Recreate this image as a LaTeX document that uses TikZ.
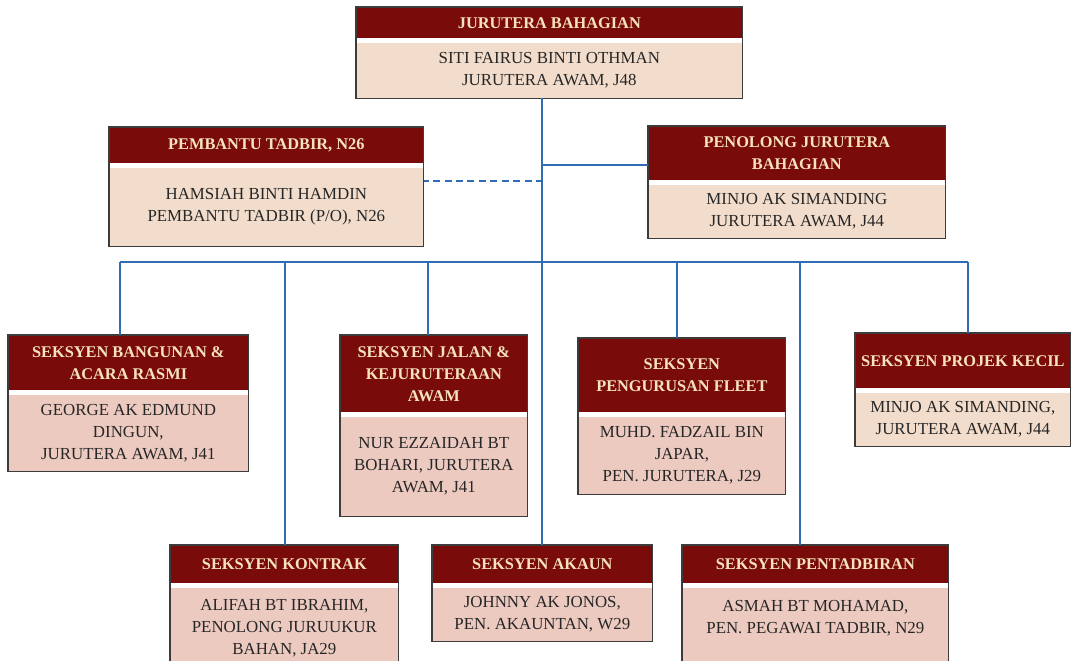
\documentclass[tikz,border=0pt]{standalone}
\usepackage{fontspec}
\setmainfont{Liberation Serif}
\usetikzlibrary{calc}
\definecolor{merahtua}{HTML}{7A0B0B}
\definecolor{krim}{HTML}{F6E3BC}
\definecolor{kuning}{HTML}{F2DDCC}
\definecolor{jambu}{HTML}{ECCAC0}
\definecolor{biru}{HTML}{2F6CB3}
\definecolor{kelabu}{HTML}{3C3C3C}
\tikzset{
    kepala/.style={fill=merahtua, text=krim, font=\fontsize{9.3}{12.5}\selectfont\bfseries, align=center, inner sep=1pt},
    isi/.style={text=black!85, font=\fontsize{9.6}{12.5}\selectfont, align=center, inner sep=1pt},
    bingkai/.style={draw=kelabu, line width=0.8pt},
    garis/.style={draw=biru, line width=1pt},
    putus/.style={dash pattern=on 4pt off 2.5pt}
}
% name, x, y, width, header height, body height, body colour, header, body
\newcommand{\Kotak}[9]{
    \node[kepala, minimum width={#4*0.02cm}, minimum height={#5*0.02cm}, anchor=north west] (#1-t) at (#2,#3) {#8};
    \node[isi, fill=#7, minimum width={#4*0.02cm}, minimum height={#6*0.02cm}, anchor=north] (#1) at ([yshift=-0.08cm]#1-t.south) {#9};
    \draw[bingkai] (#1-t.north west) rectangle (#1.south east);
}

\begin{document}
\begin{tikzpicture}[x=0.02cm, y=-0.02cm]
    \useasboundingbox (0,0) rectangle (1074,661);

    \Kotak{jurutera}{356}{7}{386}{31}{55}{kuning}{JURUTERA BAHAGIAN}{SITI FAIRUS BINTI OTHMAN\\JURUTERA AWAM, J48}
    \Kotak{pembantu}{109}{127}{314}{36}{78}{kuning}{PEMBANTU TADBIR, N26}{HAMSIAH BINTI HAMDIN\\PEMBANTU TADBIR (P/O), N26}
    \Kotak{penolong}{648}{126}{297}{54}{53}{kuning}{PENOLONG JURUTERA\\BAHAGIAN}{MINJO AK SIMANDING\\JURUTERA AWAM, J44}

    \Kotak{bangunan}{8}{335}{240}{55}{76}{jambu}{SEKSYEN BANGUNAN \&\\ACARA RASMI}{GEORGE AK EDMUND\\DINGUN,\\JURUTERA AWAM, J41}
    \Kotak{jalan}{340}{335}{187}{77}{99}{jambu}{SEKSYEN JALAN \&\\KEJURUTERAAN\\AWAM}{NUR EZZAIDAH BT\\BOHARI, JURUTERA\\AWAM, J41}
    \Kotak{fleet}{578}{338}{207}{74}{77}{jambu}{SEKSYEN\\PENGURUSAN FLEET}{MUHD. FADZAIL BIN\\JAPAR,\\PEN. JURUTERA, J29}
    \Kotak{projek}{855}{333}{215}{55}{53}{kuning}{SEKSYEN PROJEK KECIL}{MINJO AK SIMANDING,\\JURUTERA AWAM, J44}

    \Kotak{kontrak}{170}{545}{228}{38}{80}{jambu}{SEKSYEN KONTRAK}{ALIFAH BT IBRAHIM,\\PENOLONG JURUUKUR\\BAHAN, JA29}
    \Kotak{akaun}{432}{545}{220}{38}{53}{jambu}{SEKSYEN AKAUN}{JOHNNY AK JONOS,\\PEN. AKAUNTAN, W29}
    \Kotak{pentadbiran}{682}{545}{266}{38}{80}{jambu}{SEKSYEN PENTADBIRAN}{ASMAH BT MOHAMAD,\\PEN. PEGAWAI TADBIR, N29\\[0.02cm]}

    % lines
    \coordinate (cabang1) at (543,181);
    \coordinate (cabang2) at (543,165);
    \coordinate (bas) at (543,262);
    \foreach \k/\dx in {bangunan/-8, kontrak/1, jalan/-6, fleet/-5, pentadbiran/-15, projek/5}
        \coordinate (\k-x) at ([xshift=\dx*0.02cm]\k-t.north);
    \draw[garis] (jurutera.south -| akaun-t.north) -- (akaun-t.north);
    \draw[garis, putus] (cabang1) -- (cabang1 -| pembantu.east);
    \draw[garis] (cabang2) -- (cabang2 -| penolong.west);
    \draw[garis] (bas -| bangunan-x) -- (bas -| projek-x);
    \foreach \k in {bangunan, kontrak, jalan, fleet, pentadbiran, projek}
        \draw[garis] (bas -| \k-x) -- (\k-x);
\end{tikzpicture}
\end{document}
